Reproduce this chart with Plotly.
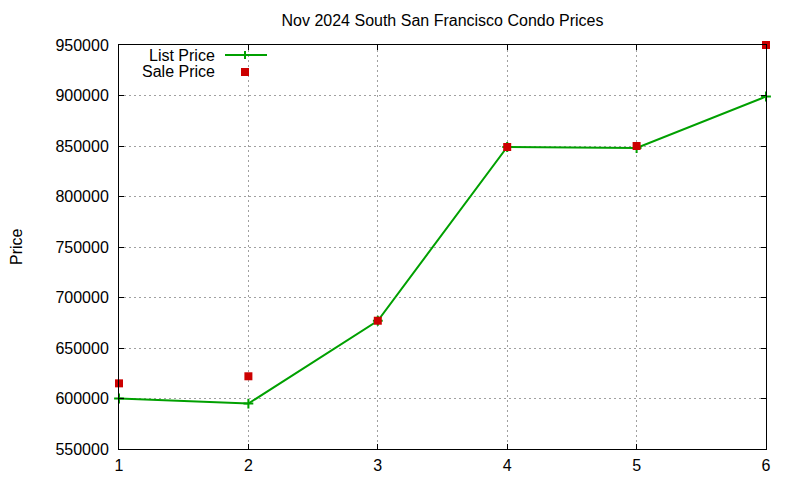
import plotly.graph_objects as go

# condo listings, Nov 2024
listing = [1, 2, 3, 4, 5, 6]
list_price = [600000, 595000, 677000, 849000, 848000, 899000]
sale_price = [615000, 622000, 677000, 849000, 850000, 950000]

green = '#00a000'
red = '#cc0000'
fnt = dict(family='Liberation Sans, Arial, sans-serif', size=16, color='black')

# page puts the plot 8px in from the top left, so margins are shifted to match
off = 8

list_trace = go.Scatter(x=listing, y=list_price, mode='lines+markers',
                        name='List Price',
                        line=dict(color=green, width=2),
                        marker=dict(symbol='cross-thin', size=7,
                                    line=dict(color=green, width=2)),
                        cliponaxis=False)

sale_trace = go.Scatter(x=listing, y=sale_price, mode='markers',
                        name='Sale Price',
                        marker=dict(symbol='square', size=8, color=red),
                        cliponaxis=False)

axis_style = dict(showline=True, linecolor='black', linewidth=1, mirror='ticks',
                  ticks='inside', ticklen=5, tickcolor='black',
                  showgrid=True, gridcolor='#a0a0a0', gridwidth=1,
                  griddash='2px,3px', zeroline=False, tickfont=fnt)

layout = go.Layout(
    width=800, height=480,
    margin=dict(l=119 - off, r=34 + off, t=45 - off, b=31 + off),
    paper_bgcolor='white', plot_bgcolor='white',
    font=fnt,
    showlegend=False,
    title=dict(text='Nov 2024 South San Francisco Condo Prices',
               x=0.5, xref='paper', xanchor='center',
               y=1 - (20 - off) / 480, yref='container', yanchor='middle',
               font=fnt),
    xaxis=dict(range=[1, 6], dtick=1, ticklabelstandoff=2, **axis_style),
    yaxis=dict(range=[550000, 950000], dtick=50000, tickformat='d',
               ticklabelstandoff=6, **axis_style),
)

fig = go.Figure(data=[list_trace, sale_trace], layout=layout)

# y axis label
fig.add_annotation(text='Price', xref='paper', yref='paper', x=(16 - 119) / 647, y=0.5,
                   textangle=-90, showarrow=False, font=fnt,
                   xanchor='center', yanchor='middle')

# gnuplot style key, top left
key_x = (217 - 119) / 647
rows = [(449 - 55) / 404, (449 - 72) / 404]
fig.add_annotation(text='List Price', xref='paper', yref='paper', x=key_x, y=rows[0],
                   xanchor='right', yanchor='middle', showarrow=False, font=fnt)
fig.add_annotation(text='Sale Price', xref='paper', yref='paper', x=key_x, y=rows[1],
                   xanchor='right', yanchor='middle', showarrow=False, font=fnt)
x0, x1, xm = (225 - 119) / 647, (267 - 119) / 647, (245 - 119) / 647
fig.add_shape(type='line', xref='paper', yref='paper', x0=x0, x1=x1, y0=rows[0], y1=rows[0],
              line=dict(color=green, width=2))
fig.add_shape(type='line', xref='paper', yref='paper', x0=xm, x1=xm,
              y0=rows[0] - 4 / 404, y1=rows[0] + 4 / 404, line=dict(color=green, width=2))
fig.add_shape(type='rect', xref='paper', yref='paper', x0=xm - 4 / 647, x1=xm + 4 / 647,
              y0=rows[1] - 4 / 404, y1=rows[1] + 4 / 404,
              line=dict(width=0), fillcolor=red)

fig.write_html('out.html', config={'displayModeBar': False})
